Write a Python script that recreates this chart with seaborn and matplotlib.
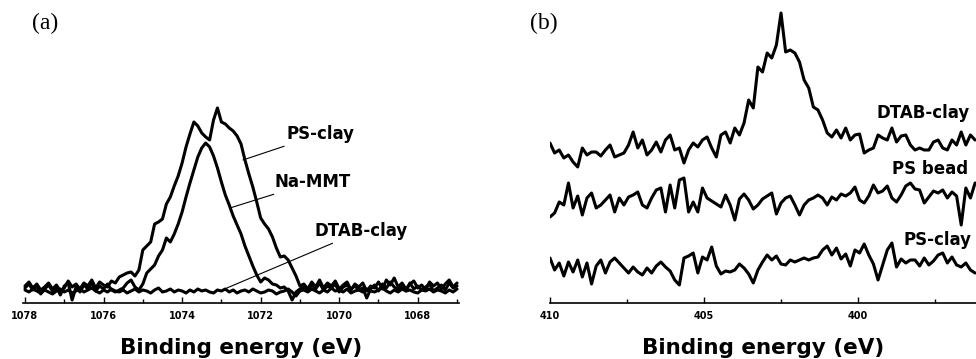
import numpy as np
import pandas as pd
import seaborn as sns
import matplotlib.pyplot as plt
from matplotlib.ticker import MultipleLocator

# ---- panel (a): Na 1s region, energy grid 1078 -> 1067 eV, step 0.1
energy_a = np.round(np.arange(1078.0, 1066.95, -0.1), 2)

ps_clay_a = [
    6, 10, 4, 8, 2, 5, 9, 3, 7, 1,
    4, 11, 5, 8, 3, 9, 6, 12, 4, 10,
    7, 5, 11, 9, 15, 17, 19, 20, 16, 22,
    42, 46, 50, 68, 70, 73, 88, 95, 106, 116,
    129, 145, 158, 170, 166, 159, 155, 152, 172, 184,
    170, 168, 164, 161, 156, 148, 132, 118, 105, 90,
    74, 68, 63, 55, 44, 35, 36, 32, 24, 16,
    6, 8, 3, 10, 5, 12, 4, 9, 6, 11,
    3, 7, 10, 2, 8, 5, 9, 1, 6, 4,
    10, 3, 12, 7, 14, 5, 9, 3, 8, 11,
    4, 7, 2, 10, 6, 9, 3, 8, 12, 5,
    9,
]
na_mmt_a = [
    4, 8, 2, 6, -2, 3, 7, 1, 5, -3,
    6, 9, -8, 5, 0, 7, 3, 9, 1, 6,
    3, 8, 2, 0, 2, 4, 9, 12, 5, 2,
    8, 19, 23, 27, 36, 42, 54, 50, 58, 68,
    80, 95, 109, 122, 135, 144, 149, 145, 136, 124,
    110, 97, 87, 76, 67, 58, 46, 36, 26, 17,
    10, 14, 12, 8, 7, 4, 5, 1, -8, 0,
    3, 5, 1, 7, 3, 9, 2, 6, 4, 8,
    0, 5, 7, 3, 6, 2, 4, -6, 3, 7,
    1, 8, 4, 10, 5, 2, 6, 1, 9, 3,
    6, 2, 5, 8, 1, 4, 7, 2, 9, 4,
    6,
]
dtab_clay_a = [
    2, 0, 3, 1, -1, 2, 0, -2, 1, 3,
    0, 2, -1, 1, 3, 0, 2, 4, 1, -1,
    2, 0, 3, 1, 0, 2, -1, 1, 3, 0,
    2, 1, -1, 2, 4, 0, 1, 3, 0, 2,
    1, -1, 2, 0, 3, 1, 2, 0, -1, 2,
    1, 3, 0, 2, -1, 1, 2, 0, 3, 1,
    -1, 0, 2, 1, -2, 0, 1, 3, 0, -4,
    1, 2, 0, 3, 1, -1, 2, 0, 4, 1,
    2, 0, 3, -1, 1, 2, 0, 3, 1, 0,
    2, 4, 1, -1, 2, 0, 3, 1, 2, 0,
    -1, 2, 1, 3, 0, 2, 1, -1, 2, 0,
    3,
]

# ---- panel (b): N 1s region, energy grid 410 -> 396.2 eV, step 0.15
energy_b = np.round(np.arange(410.0, 396.15, -0.15), 2)

dtab_clay_b = [
    9, -1, 2, -6, -3, -10, -15, 4, -3, 0,
    0, -4, 2, 7, -5, -3, -1, 7, 20, 4,
    12, -3, 2, 10, 0, 12, 17, 2, 4, -11,
    2, 9, 5, 12, 15, 4, -5, 17, 20, 9,
    24, 17, 29, 52, 44, 85, 80, 99, 94, 107,
    139, 100, 102, 99, 90, 72, 64, 45, 42, 32,
    19, 15, 22, 14, 24, 12, 17, 18, -1, 2,
    4, 17, 14, 12, 24, 10, 16, 17, 7, 2,
    4, 2, 2, 10, 12, 4, 2, 12, 7, 20,
    7, 17, 12,
]
ps_bead_b = [
    -17, -13, -2, -5, 17, -8, 4, -15, 2, 7,
    -8, -5, 0, 5, -12, 2, -5, 3, 5, 8,
    -5, -8, 2, 10, 12, -12, 15, -8, 20, 22,
    -12, -2, -12, 12, 2, -1, -4, -7, 5, -5,
    -20, 1, 6, 0, -9, -5, 1, 4, 7, -14,
    -3, 2, 4, -5, -15, -5, 0, 2, 5, 2,
    -5, 3, 0, 6, 4, 7, 13, 0, -3, 4,
    15, 7, 9, 14, 2, -2, 5, 14, 17, 11,
    10, -3, 3, 9, 7, 10, 2, 8, 4, -25,
    12, 2, 17,
]
ps_clay_b = [
    10, -2, 5, -8, 6, -4, 8, -9, 5, -16,
    2, 8, -5, 6, 10, 5, 0, -5, 1, -4,
    -7, 0, -5, 2, 6, 1, -3, -12, -17, 10,
    12, 15, -5, 11, 8, 21, 2, -6, -3, -4,
    -2, 4, 0, -6, -15, -2, 6, 13, 8, 12,
    4, 3, 8, 6, 8, 10, 8, 10, 11, 18,
    22, 13, 20, 9, 14, 2, 18, 15, 24, 13,
    4, -12, 3, 18, 25, 1, 9, 5, 8, 8,
    2, 10, 3, 7, 13, 15, 5, 11, 3, 1,
    5, -2, -5,
]
labels_b = ["DTAB-clay", "PS bead", "PS-clay"]

sns.set_style("white")
plt.rcParams["font.family"] = ["DejaVu Sans"]
plt.rcParams["text.color"] = "black"
plt.rcParams["axes.labelcolor"] = "black"
plt.rcParams["xtick.color"] = "black"

fig = plt.figure(figsize=(9.76, 3.59), dpi=100)
ax1 = fig.add_axes([0.0236, 0.156, 0.4467, 0.677])
ax2 = fig.add_axes([0.5635, 0.156, 0.4365, 0.844])

lw = 2.2
for vals in [dtab_clay_a, na_mmt_a, ps_clay_a]:
    df = pd.DataFrame({"energy": energy_a, "counts": vals})
    sns.lineplot(data=df, x="energy", y="counts", ax=ax1, color="black",
                 lw=lw, estimator=None, sort=False)

offsets = [151, 103, 35]
for vals, off in zip([dtab_clay_b, ps_bead_b, ps_clay_b], offsets):
    df = pd.DataFrame({"energy": energy_b, "counts": np.array(vals) + off})
    sns.lineplot(data=df, x="energy", y="counts", ax=ax2, color="black",
                 lw=lw, estimator=None, sort=False)

ax1.set_xlim(1078.05, 1066.95)
ax1.set_ylim(-11, 232)
ax2.set_xlim(410, 396.17)
ax2.set_ylim(0, 303)

for ax in (ax1, ax2):
    sns.despine(ax=ax, left=True, top=True, right=True)
    ax.spines["bottom"].set_linewidth(1.2)
    ax.spines["bottom"].set_color("black")
    ax.set_yticks([])
    ax.set_ylabel("")
    ax.tick_params(axis="x", which="both", direction="in", length=4,
                   width=1, color="black", pad=6, bottom=True)
    ax.tick_params(axis="x", which="minor", length=3)
    ax.set_xlabel("Binding energy (eV)", fontsize=15.5, fontweight="bold",
                  labelpad=12)

ax1.xaxis.set_major_locator(MultipleLocator(2))
ax1.xaxis.set_minor_locator(MultipleLocator(1))
ax2.xaxis.set_major_locator(MultipleLocator(5))
ax2.xaxis.set_minor_locator(MultipleLocator(2.5))
for ax in (ax1, ax2):
    ax.set_xticklabels([f"{v:g}" for v in ax.get_xticks()], fontsize=7,
                       fontweight="bold")

# curve labels with leader lines, panel (a)
lab_kw = dict(fontsize=12, fontweight="bold", va="center", ha="left")
line_kw = dict(arrowstyle="-", lw=0.8, color="black", shrinkA=0, shrinkB=0)
ax1.annotate("PS-clay", xy=(1072.45, 132), xytext=(1071.33, 158),
             arrowprops=line_kw, **lab_kw)
ax1.annotate("Na-MMT", xy=(1072.78, 84), xytext=(1071.64, 110),
             arrowprops=line_kw, **lab_kw)
ax1.annotate("DTAB-clay", xy=(1072.86, 4), xytext=(1070.62, 61),
             arrowprops=line_kw, **lab_kw)

# curve labels, panel (b)
for txt, ex, yv in zip(labels_b, [396.36, 396.43, 396.30], [190, 134, 63]):
    ax2.text(ex, yv, txt, fontsize=12, fontweight="bold", ha="right",
             va="center")

fig.text(0.0328, 0.936, "(a)", fontsize=17, family="Liberation Serif",
         va="center", ha="left")
fig.text(0.543, 0.936, "(b)", fontsize=17, family="Liberation Serif",
         va="center", ha="left")

fig.savefig("out.png", dpi=100)
